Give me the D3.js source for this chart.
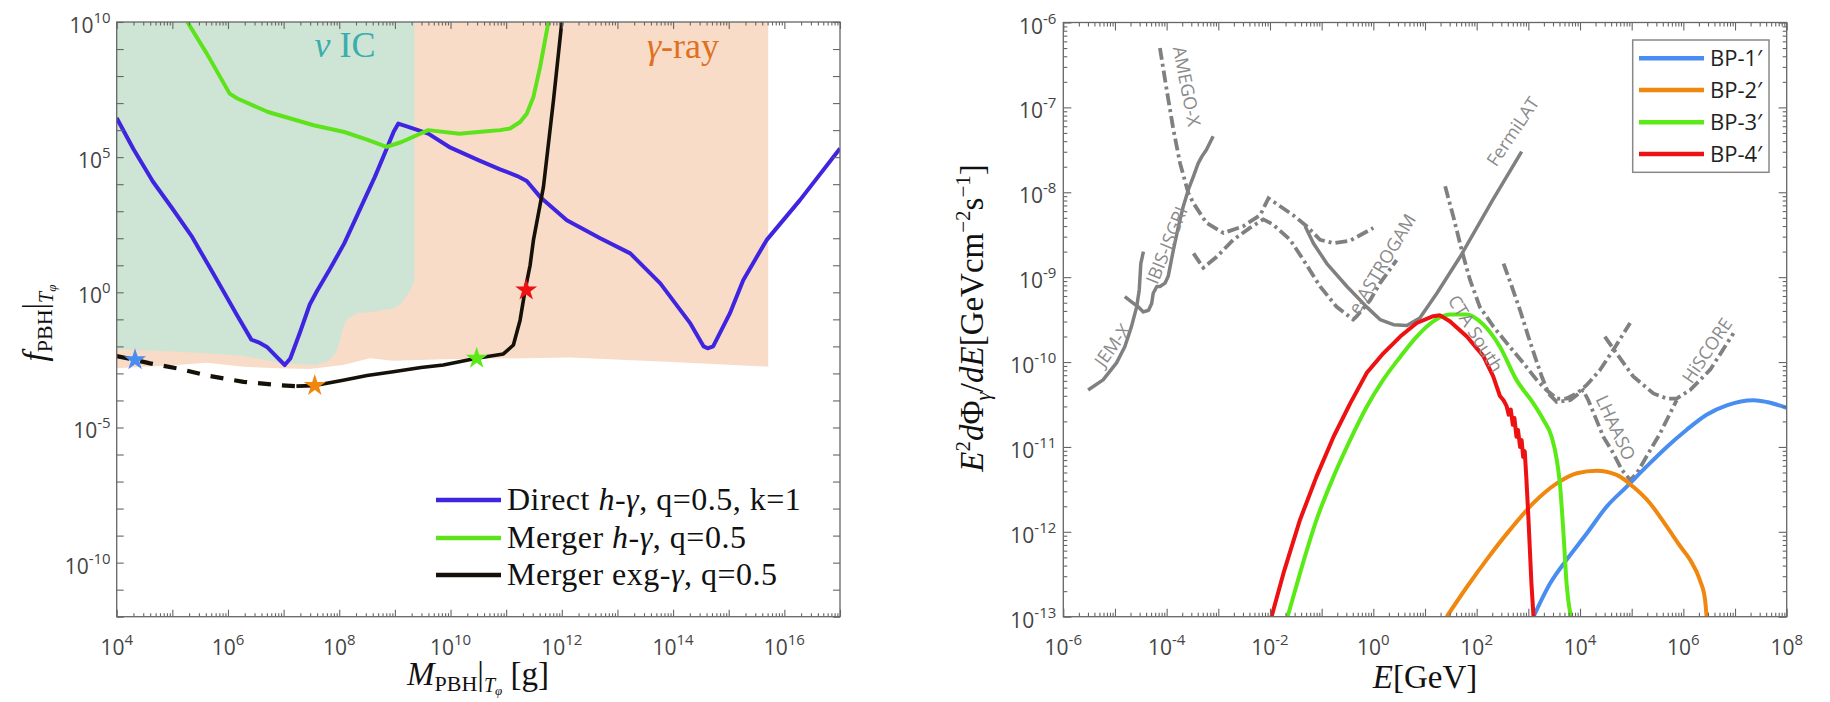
<!DOCTYPE html>
<html><head><meta charset="utf-8">
<script src="https://cdn.jsdelivr.net/npm/d3@7"></script>
<style>body{margin:0;background:#fff}svg{display:block}</style>
</head><body>
<svg id="chart" width="1830" height="702"></svg>
<script>
// ---------------- DATA (log10 values) ----------------
// Left panel: [log10 M_PBH (g), log10 f_PBH]
const directHG = [[4.0,6.45],[4.3,5.3],[4.65,4.1],[5.0,3.1],[5.34,2.1],[5.65,1.0],[5.9,0.1],[6.15,-0.8],[6.42,-1.75],[6.55,-1.85],[6.7,-2.02],[6.88,-2.4],[7.02,-2.69],[7.12,-2.45],[7.3,-1.45],[7.47,-0.45],[7.6,0.05],[7.83,0.85],[8.09,1.81],[8.4,3.2],[8.64,4.27],[8.85,5.3],[8.98,5.95],[9.06,6.24],[9.2,6.15],[9.6,5.87],[10.0,5.35],[10.5,4.89],[10.89,4.55],[11.2,4.3],[11.37,4.12],[11.61,3.53],[12.09,2.67],[12.69,2.0],[13.23,1.44],[13.77,0.33],[14.31,-1.15],[14.55,-2.0],[14.62,-2.07],[14.72,-2.0],[15.02,-0.78],[15.26,0.45],[15.68,1.93],[16.28,3.41],[17.0,5.32]];
const mergerHG = [[5.27,10],[5.62,8.83],[6.03,7.35],[6.17,7.17],[6.72,6.67],[7.54,6.18],[8.09,5.93],[8.5,5.65],[8.85,5.38],[9.12,5.56],[9.6,6.0],[10.16,5.87],[10.6,5.95],[10.89,6.0],[11.07,6.06],[11.25,6.3],[11.37,6.61],[11.49,7.23],[11.61,8.34],[11.76,10]];
const mergerExgDashed = [[4.0,-2.36],[4.33,-2.5],[4.6,-2.63],[5.08,-2.81],[5.68,-3.1],[6.28,-3.31],[6.88,-3.43],[7.23,-3.47]];
const mergerExgSolid = [[7.23,-3.47],[7.56,-3.45],[8.07,-3.25],[8.5,-3.08],[8.97,-2.94],[9.47,-2.78],[9.87,-2.69],[10.47,-2.44],[10.95,-2.28],[11.13,-1.95],[11.25,-1.03],[11.34,0.08],[11.43,1.0],[11.49,1.93],[11.67,3.9],[11.85,7.1],[12.0,10]];
const starPoints = [[4.33,-2.5],[7.56,-3.45],[10.47,-2.44],[11.36,0.08]];
const starColors = ["#4a8df0","#f0870f","#5aeb16","#ee1111"];
const gammaRegion = [[4,10],[15.71,10],[15.71,-2.75],[13.88,-2.57],[12.15,-2.41],[9.87,-2.48],[8.97,-2.53],[8.55,-2.44],[8.07,-2.69],[7.47,-2.84],[6.88,-2.81],[6.28,-2.75],[5.62,-2.61],[5.08,-2.69],[4,-2.81]];
const nuICRegion = [[4,10],[9.35,10],[9.35,0.4],[9.27,0.05],[9.1,-0.45],[8.97,-0.6],[8.6,-0.72],[8.31,-0.78],[8.15,-1.0],[8.07,-1.3],[8.0,-1.9],[7.92,-2.3],[7.8,-2.55],[7.59,-2.69],[7.3,-2.66],[6.99,-2.63],[6.6,-2.48],[6.28,-2.36],[5.6,-2.25],[5.08,-2.2],[4,-2.11]];
const leftXTickExps = [4,6,8,10,12,14,16];
const leftYTickExps = [10,5,0,-5,-10];

// Right panel: [log10 E (GeV), log10 E^2 dPhi/dE]
const jemx = [[-5.52,-10.33],[-5.23,-10.21],[-4.97,-10.01],[-4.81,-9.82],[-4.68,-9.58],[-4.58,-9.35],[-4.53,-9.15],[-4.50,-8.84],[-4.45,-8.70]];
const ibis = [[-4.81,-9.23],[-4.68,-9.29],[-4.55,-9.35],[-4.45,-9.41],[-4.35,-9.39],[-4.29,-9.31],[-4.26,-9.19],[-4.19,-9.11],[-4.13,-9.11],[-4.03,-9.07],[-3.97,-8.99],[-3.87,-8.68],[-3.77,-8.40],[-3.68,-8.17],[-3.58,-7.97],[-3.48,-7.81],[-3.39,-7.66],[-3.32,-7.58],[-3.23,-7.50],[-3.10,-7.34]];
const amegoX = [[-4.13,-6.30],[-4.0,-6.79],[-3.87,-7.26],[-3.74,-7.66],[-3.58,-8.01],[-3.48,-8.13],[-3.23,-8.36],[-2.90,-8.48],[-2.52,-8.40],[-2.19,-8.27],[-2.03,-8.07],[-1.55,-8.27],[-1.29,-8.40],[-1.03,-8.56],[-0.77,-8.60],[-0.45,-8.57],[0.0,-8.42]];
const eAstrogam = [[-3.48,-8.72],[-3.29,-8.89],[-3.03,-8.76],[-2.71,-8.56],[-2.39,-8.42],[-2.13,-8.32],[-1.94,-8.38],[-1.61,-8.56],[-1.35,-8.80],[-1.03,-9.11],[-0.71,-9.35],[-0.39,-9.50],[-0.32,-9.46],[-0.06,-9.27],[0.13,-9.07],[0.45,-8.80]];
const fermiLAT = [[-1.32,-8.40],[-1.16,-8.60],[-0.90,-8.84],[-0.51,-9.11],[-0.13,-9.35],[0.13,-9.50],[0.39,-9.56],[0.65,-9.57],[0.90,-9.48],[1.23,-9.19],[1.68,-8.76],[2.3,-8.1],[2.87,-7.52]];
const ctaSouth = [[1.39,-7.93],[1.55,-8.29],[1.71,-8.68],[1.87,-9.03],[2.06,-9.35],[2.32,-9.58],[2.64,-9.82],[2.90,-10.01],[3.16,-10.21],[3.35,-10.33],[3.55,-10.43],[3.74,-10.43],[3.94,-10.37],[4.13,-10.27],[4.39,-10.09],[4.64,-9.86],[4.97,-9.54]];
const lhaaso = [[2.52,-8.84],[2.68,-9.11],[2.84,-9.39],[3.0,-9.70],[3.13,-9.94],[3.26,-10.17],[3.39,-10.37],[3.55,-10.47],[3.81,-10.45],[4.06,-10.33],[4.16,-10.45],[4.29,-10.64],[4.45,-10.88],[4.64,-11.07],[4.81,-11.27],[4.97,-11.39],[5.10,-11.31],[5.29,-11.11],[5.55,-10.84],[5.87,-10.45]];
const hiscore = [[4.48,-9.70],[4.71,-9.90],[5.03,-10.17],[5.42,-10.37],[5.68,-10.43],[5.87,-10.43],[6.13,-10.33],[6.52,-10.09],[6.97,-9.66]];
const instrumentLabels = [["JEM-X",-5.06,-9.80,-54],["IBIS-ISGRI",-4.01,-8.62,-68],["AMEGO-X",-3.6,-6.75,79],["e-ASTROGAM",0.16,-8.84,-59],["FermiLAT",2.69,-7.28,-56],["CTA South",1.99,-9.66,58],["LHAASO",4.70,-10.77,65],["HiSCORE",6.45,-9.86,-56]];
const bp1 = [[3.10,-13.0],[3.42,-12.61],[3.74,-12.33],[4.13,-12.02],[4.52,-11.70],[4.90,-11.47],[5.29,-11.23],[5.68,-11.0],[6.06,-10.80],[6.45,-10.62],[6.84,-10.51],[7.36,-10.45],[7.61,-10.47],[8.0,-10.54]];
const bp2 = [[1.42,-13.0],[1.81,-12.65],[2.19,-12.33],[2.64,-11.98],[3.10,-11.66],[3.55,-11.43],[3.94,-11.31],[4.32,-11.28],[4.71,-11.33],[5.03,-11.47],[5.35,-11.66],[5.68,-11.94],[5.94,-12.17],[6.13,-12.33],[6.32,-12.57],[6.42,-12.80],[6.45,-13.0]];
const bp3 = [[-1.66,-13.0],[-1.42,-12.49],[-1.10,-11.86],[-0.77,-11.35],[-0.45,-10.92],[-0.13,-10.53],[0.19,-10.21],[0.52,-9.94],[0.84,-9.70],[1.16,-9.52],[1.48,-9.44],[1.81,-9.44],[2.13,-9.56],[2.45,-9.82],[2.77,-10.21],[3.10,-10.49],[3.29,-10.68],[3.45,-10.88],[3.55,-11.15],[3.61,-11.43],[3.68,-12.02],[3.74,-12.61],[3.82,-13.0]];
const bp4 = [[-1.97,-13.0],[-1.74,-12.49],[-1.42,-11.86],[-1.10,-11.35],[-0.77,-10.88],[-0.45,-10.49],[-0.13,-10.13],[0.19,-9.90],[0.52,-9.70],[0.84,-9.54],[1.16,-9.46],[1.29,-9.45],[1.48,-9.52],[1.81,-9.70],[2.13,-9.93],[2.32,-10.17],[2.45,-10.4],[2.52,-10.45],[2.58,-10.52],[2.62,-10.62],[2.66,-10.56],[2.70,-10.74],[2.73,-10.66],[2.77,-10.88],[2.80,-10.80],[2.84,-11.0],[2.87,-10.92],[2.90,-11.12],[2.93,-11.05],[2.96,-11.35],[3.0,-11.82],[3.06,-12.61],[3.10,-13.0]];
const bpNames = ["BP-1\u2032","BP-2\u2032","BP-3\u2032","BP-4\u2032"];
const bpColors = ["#4a8df0","#f0870f","#5aeb16","#ee1111"];
const rightXTickExps = [-6,-4,-2,0,2,4,6,8];
const rightYTickExps = [-6,-7,-8,-9,-10,-11,-12,-13];

// ---------------- LAYOUT ----------------
const SANS = "'Open Sans', 'DejaVu Sans', sans-serif";
const SERIF = "'Liberation Serif', 'DejaVu Serif', serif";
const AX = "#666";
const L = {x0:116.7, x1:840, y0:22, y1:616.7};
const R = {x0:1063.3, x1:1786.7, y0:22.5, y1:616.7};
const svg = d3.select("#chart");

const xL = d3.scaleLog().domain([1e4,1e17]).range([L.x0,L.x1]);
const yL = d3.scaleLog().domain([1e-12,1e10]).range([L.y1,L.y0]);
const xR = d3.scaleLog().domain([1e-6,1e8]).range([R.x0,R.x1]);
const yR = d3.scaleLog().domain([1e-13,1e-6]).range([R.y1,R.y0]);
const p10 = v => Math.pow(10, v);

const defs = svg.append("defs");
defs.append("clipPath").attr("id","clipL").append("rect").attr("x",L.x0).attr("y",L.y0).attr("width",L.x1-L.x0).attr("height",L.y1-L.y0);
defs.append("clipPath").attr("id","clipR").append("rect").attr("x",R.x0).attr("y",R.y0).attr("width",R.x1-R.x0).attr("height",R.y1-R.y0);

const lineL = d3.line().x(d=>xL(p10(d[0]))).y(d=>yL(p10(d[1])));
const lineR = d3.line().x(d=>xR(p10(d[0]))).y(d=>yR(p10(d[1])));
const smoothR = d3.line().x(d=>xR(p10(d[0]))).y(d=>yR(p10(d[1]))).curve(d3.curveMonotoneX);

function decades(a,b){ return d3.range(a,b+1).map(p10); }
function minors(a,b){ const o=[]; for(let e=a;e<b;e++) for(let k=2;k<10;k++) o.push(k*p10(e)); return o; }

function drawTicks(P, xs, ys, xMaj, xMin, yMaj, yMin, maj, mn){
  const g = svg.append("g").attr("color",AX);
  const add = (axis, tr) => g.append("g").attr("transform",tr).call(axis).call(s=>s.select(".domain").remove()).selectAll("line").attr("stroke-width",1.1);
  [[xMaj,maj],[xMin,mn]].forEach(([v,s])=>{ if(!v) return;
    add(d3.axisBottom(xs).tickValues(v).tickSize(-s).tickFormat(""), `translate(0,${P.y1})`);
    add(d3.axisTop(xs).tickValues(v).tickSize(-s).tickFormat(""), `translate(0,${P.y0})`);
  });
  [[yMaj,maj],[yMin,mn]].forEach(([v,s])=>{ if(!v) return;
    add(d3.axisLeft(ys).tickValues(v).tickSize(-s).tickFormat(""), `translate(${P.x0},0)`);
    add(d3.axisRight(ys).tickValues(v).tickSize(-s).tickFormat(""), `translate(${P.x1},0)`);
  });
  g.append("rect").attr("x",P.x0).attr("y",P.y0).attr("width",P.x1-P.x0).attr("height",P.y1-P.y0)
    .attr("fill","none").attr("stroke",AX).attr("stroke-width",1.3);
}
function powLabel(x, y, e, anchor){
  const t = svg.append("text").attr("x",x).attr("y",y).attr("text-anchor",anchor)
    .attr("font-family",SANS).attr("font-size",21).attr("fill","#444");
  t.append("tspan").text("10");
  t.append("tspan").attr("dy",-10).attr("font-size",15).text(e);
}
function rich(parent, segs, attrs){
  const t = parent.append("text");
  Object.entries(attrs).forEach(([k,v])=>t.attr(k,v));
  segs.forEach(s=>{ const ts=t.append("tspan").text(s.t);
    if(s.i) ts.attr("font-style","italic"); if(s.s) ts.attr("font-size",s.s); if(s.dy) ts.attr("dy",s.dy); });
  return t;
}

// ---------------- LEFT PANEL ----------------
const gL = svg.append("g").attr("clip-path","url(#clipL)");
gL.append("path").attr("d",lineL(gammaRegion)+"Z").attr("fill","#f9dcc7");
gL.append("path").attr("d",lineL(nuICRegion)+"Z").attr("fill","#cee5d5");
gL.append("path").attr("d",lineL(directHG)).attr("fill","none").attr("stroke","#3f25e0").attr("stroke-width",4).attr("stroke-linejoin","round");
gL.append("path").attr("d",lineL(mergerHG)).attr("fill","none").attr("stroke","#5ee21c").attr("stroke-width",4).attr("stroke-linejoin","round");
gL.append("path").attr("d",lineL(mergerExgDashed)).attr("fill","none").attr("stroke","#151008").attr("stroke-width",4.2).attr("stroke-dasharray","13,11");
gL.append("path").attr("d",lineL(mergerExgSolid)).attr("fill","none").attr("stroke","#151008").attr("stroke-width",3.6).attr("stroke-linejoin","round");
const star = d3.symbol().type(d3.symbolStar).size(150);
gL.selectAll(".star").data(starPoints).join("path").attr("d",star)
  .attr("transform",d=>`translate(${xL(p10(d[0]))},${yL(p10(d[1]))})`).attr("fill",(d,i)=>starColors[i]);

rich(svg,[{t:"\u03bd",i:1},{t:" IC"}],{x:345,y:57,"text-anchor":"middle","font-family":SERIF,"font-size":36,fill:"#3aadad"});
rich(svg,[{t:"\u03b3",i:1},{t:"-ray"}],{x:683,y:58,"text-anchor":"middle","font-family":SERIF,"font-size":36,fill:"#e0701e"});

drawTicks(L,xL,yL,decades(4,17),minors(4,17),decades(-12,10),null,7,3.5);
leftXTickExps.forEach(e=>powLabel(xL(p10(e)),655,e,"middle"));
leftYTickExps.forEach(e=>powLabel(L.x0-6,yL(p10(e))+11,e,"end"));

// legend (left)
const legL = [
  [{t:"Direct "},{t:"h",i:1},{t:"-"},{t:"\u03b3",i:1},{t:", q=0.5, k=1"}],
  [{t:"Merger "},{t:"h",i:1},{t:"-"},{t:"\u03b3",i:1},{t:", q=0.5"}],
  [{t:"Merger exg-"},{t:"\u03b3",i:1},{t:", q=0.5"}]
];
const legLColors = ["#3f25e0","#5ee21c","#151008"];
const legLY = [500,538,575];
legL.forEach((segs,i)=>{
  svg.append("line").attr("x1",436).attr("x2",501).attr("y1",legLY[i]).attr("y2",legLY[i]).attr("stroke",legLColors[i]).attr("stroke-width",4.5);
  rich(svg,segs,{x:507,y:legLY[i]+10,"font-family":SERIF,"font-size":32,"letter-spacing":0.5,fill:"#111"});
});

// axis titles (left)
rich(svg,[{t:"M",i:1},{t:"PBH",s:22,dy:6},{t:"|",s:33,dy:-6},{t:"T",i:1,s:20,dy:7},{t:"\u03c6",i:1,s:13,dy:3},{t:" [g]",s:33,dy:-10}],
  {x:478,y:685,"text-anchor":"middle","font-family":SERIF,"font-size":33,fill:"#111"});
rich(svg,[{t:"f",i:1},{t:"PBH",s:22,dy:6},{t:"|",s:33,dy:-6},{t:"T",i:1,s:20,dy:7},{t:"\u03c6",i:1,s:13,dy:3}],
  {transform:"translate(46,323) rotate(-90)","text-anchor":"middle","font-family":SERIF,"font-size":33,fill:"#111"});

// ---------------- RIGHT PANEL ----------------
const gR = svg.append("g").attr("clip-path","url(#clipR)");
const GRAY = "#808080";
const solidG = [jemx, ibis, fermiLAT];
const dashG = [amegoX, eAstrogam, ctaSouth, lhaaso, hiscore];
solidG.forEach(d=>gR.append("path").attr("d",lineR(d)).attr("fill","none").attr("stroke",GRAY).attr("stroke-width",3.5).attr("stroke-linejoin","round"));
dashG.forEach(d=>gR.append("path").attr("d",lineR(d)).attr("fill","none").attr("stroke",GRAY).attr("stroke-width",3.8).attr("stroke-dasharray","12,4,3,4"));
instrumentLabels.forEach(([name,le,lf,ang])=>{
  svg.append("text").attr("transform",`translate(${xR(p10(le))},${yR(p10(lf))}) rotate(${ang})`)
    .attr("text-anchor","middle").attr("dominant-baseline","central").attr("font-family",SANS).attr("font-size",18)
    .attr("fill","#8a8a8a").text(name);
});
[bp1,bp2,bp3,bp4].forEach((d,i)=>gR.append("path").attr("d",(i===3?lineR:smoothR)(d)).attr("fill","none").attr("stroke",bpColors[i]).attr("stroke-width",4).attr("stroke-linejoin","round"));

drawTicks(R,xR,yR,decades(-6,8),minors(-6,8),decades(-13,-6),minors(-13,-6),8,4);
rightXTickExps.forEach(e=>powLabel(xR(p10(e)),655,e,"middle"));
rightYTickExps.forEach(e=>powLabel(R.x0-7,yR(p10(e))+11,e,"end"));

// legend (right)
svg.append("rect").attr("x",1632.7).attr("y",40).attr("width",136.3).attr("height",132.3).attr("fill","#fff").attr("stroke","#888").attr("stroke-width",1.5);
const legRY = [58.3,90,122.3,154];
bpNames.forEach((n,i)=>{
  svg.append("line").attr("x1",1639).attr("x2",1704).attr("y1",legRY[i]).attr("y2",legRY[i]).attr("stroke",bpColors[i]).attr("stroke-width",4.5);
  svg.append("text").attr("x",1710).attr("y",legRY[i]+8).attr("font-family",SANS).attr("font-size",22).attr("fill","#222").text(n);
});

// axis titles (right)
rich(svg,[{t:"E",i:1},{t:"[GeV]"}],{x:1425,y:688,"text-anchor":"middle","font-family":SERIF,"font-size":33,fill:"#111"});
rich(svg,[{t:"E",i:1},{t:"2",s:21,dy:-13},{t:"d",i:1,dy:13},{t:"\u03a6"},{t:"\u03b3",i:1,s:21,dy:7},{t:"/",dy:-7},{t:"dE",i:1},{t:"[GeVcm"},{t:"\u22122",s:21,dy:-13},{t:"s",dy:13},{t:"\u22121",s:21,dy:-13},{t:"]",dy:13}],
  {transform:"translate(983,318) rotate(-90)","text-anchor":"middle","font-family":SERIF,"font-size":33,fill:"#111"});
</script>
</body></html>
